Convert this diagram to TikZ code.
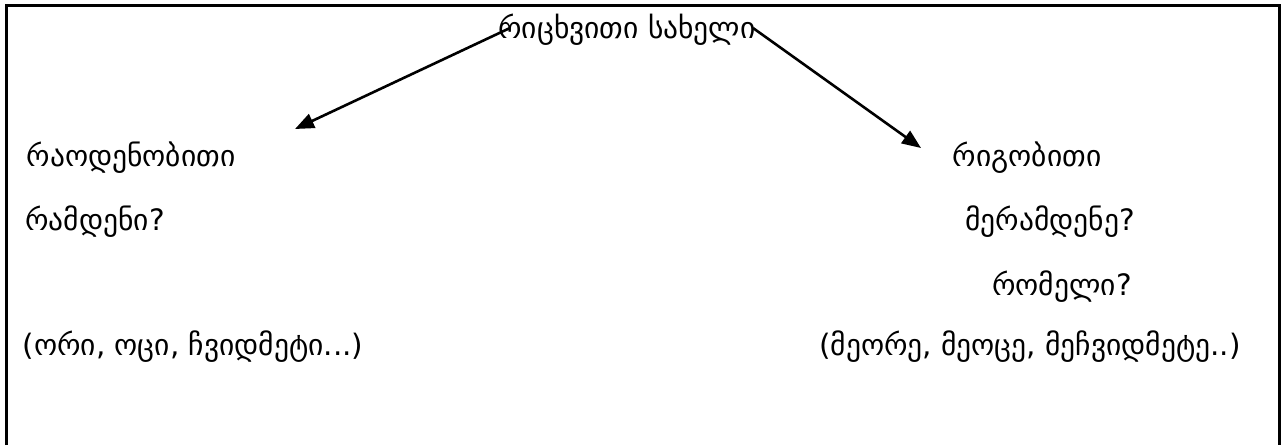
\documentclass[tikz,border=0pt]{standalone}
\usepackage{fontspec}
\newfontfamily\geofont{DejaVu Sans}
\usetikzlibrary{arrows.meta}
\begin{document}
\begin{tikzpicture}[x=1pt,y=-1pt,
  lbl/.style={inner sep=0pt,font=\geofont\fontsize{29.5}{34}\selectfont,anchor=center},
  conn/.style={line width=2.6pt,-{Triangle[length=19pt,width=15pt]}},
  frame/.style={line width=3pt}]
\useasboundingbox (0,0) rectangle (1281,445);
% frame
\draw[frame] (6,445) -- (6,5) -- (1279.5,5) -- (1279.5,445);
% title
\node[lbl] (title) at (627,30) {რიცხვითი სახელი};
% left column
\node[lbl] (card) at (131,158) {რაოდენობითი};
\node[lbl] (cardq) at (95,222) {რამდენი?};
\node[lbl] (cardex) at (193,347) {(ორი, ოცი, ჩვიდმეტი...)};
% right column
\node[lbl] (ord) at (1027,158) {რიგობითი};
\node[lbl] (ordq) at (1050,222) {მერამდენე?};
\node[lbl] (ordq2) at (1062,287) {რომელი?};
\node[lbl] (ordex) at (1030,347) {(მეორე, მეოცე, მეჩვიდმეტე..)};
% connectors
\coordinate (sL) at (510,28);
\coordinate (tL) at (295,129);
\coordinate (sR) at (753,28);
\coordinate (tR) at (921,148);
\draw[conn] (sL) -- (tL);
\draw[conn] (sR) -- (tR);
\end{tikzpicture}
\end{document}
